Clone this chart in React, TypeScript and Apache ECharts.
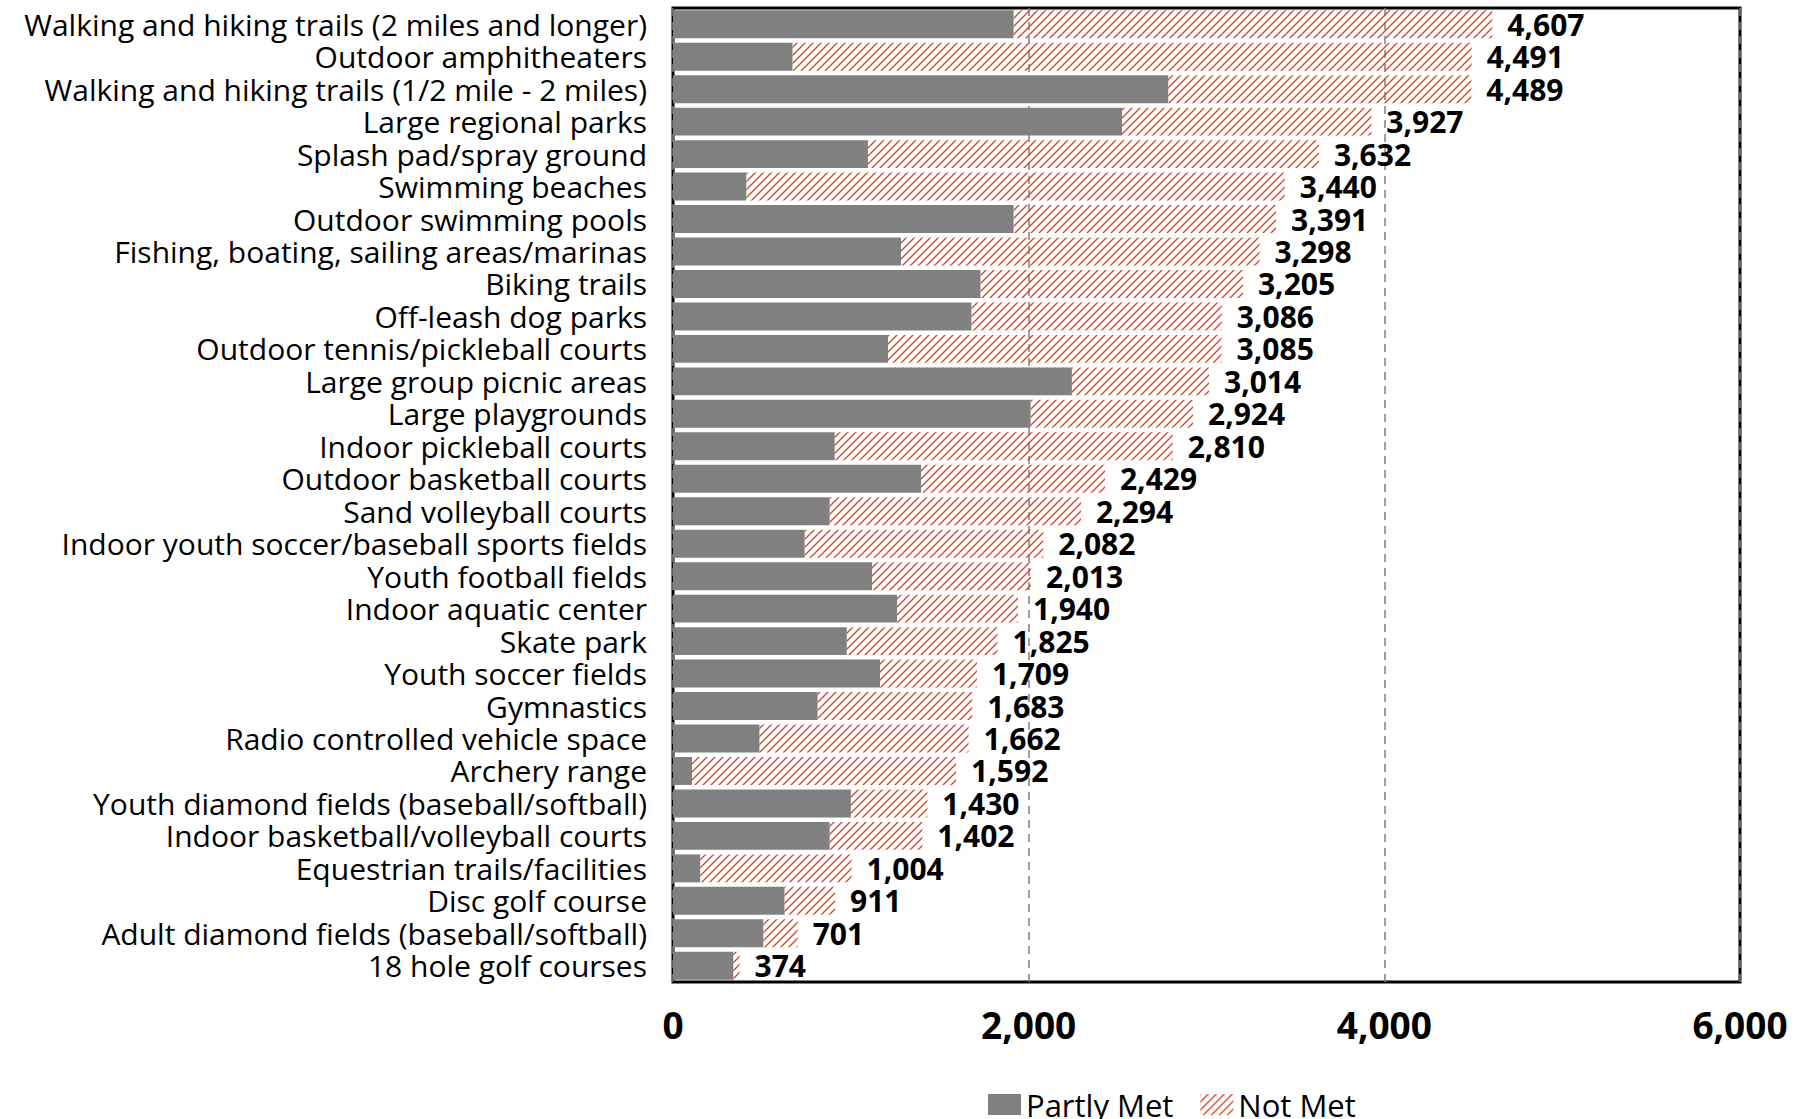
import React, { useEffect, useRef } from "react";
import * as echarts from "echarts";

const categories = [
  "Walking and hiking trails (2 miles and longer)",
  "Outdoor amphitheaters",
  "Walking and hiking trails (1/2 mile - 2 miles)",
  "Large regional parks",
  "Splash pad/spray ground",
  "Swimming beaches",
  "Outdoor swimming pools",
  "Fishing, boating, sailing areas/marinas",
  "Biking trails",
  "Off-leash dog parks",
  "Outdoor tennis/pickleball courts",
  "Large group picnic areas",
  "Large playgrounds",
  "Indoor pickleball courts",
  "Outdoor basketball courts",
  "Sand volleyball courts",
  "Indoor youth soccer/baseball sports fields",
  "Youth football fields",
  "Indoor aquatic center",
  "Skate park",
  "Youth soccer fields",
  "Gymnastics",
  "Radio controlled vehicle space",
  "Archery range",
  "Youth diamond fields (baseball/softball)",
  "Indoor basketball/volleyball courts",
  "Equestrian trails/facilities",
  "Disc golf course",
  "Adult diamond fields (baseball/softball)",
  "18 hole golf courses",
];

const totals = [
  4607, 4491, 4489, 3927, 3632, 3440, 3391, 3298, 3205, 3086, 3085, 3014, 2924,
  2810, 2429, 2294, 2082, 2013, 1940, 1825, 1709, 1683, 1662, 1592, 1430, 1402,
  1004, 911, 701, 374,
];

const partlyMet = [
  1915, 672, 2785, 2525, 1096, 412, 1915, 1282, 1729, 1678, 1209, 2243, 2011,
  909, 1395, 881, 740, 1119, 1260, 977, 1164, 813, 486, 107, 1000, 881, 153,
  627, 508, 339,
];

const notMet = totals.map((t, i) => t - partlyMet[i]);

const xTicks = [0, 2000, 4000, 6000];

const FONT = "'Open Sans', 'Noto Sans', sans-serif";

const hatchSvg =
  "<svg xmlns='http://www.w3.org/2000/svg' width='8' height='8'>" +
  "<path d='M-1,1 L1,-1 M0,8 L8,0 M7,9 L9,7' stroke='#D9472B' stroke-width='1.4' fill='none'/></svg>";
const hatchUrl = "data:image/svg+xml;charset=utf-8," + encodeURIComponent(hatchSvg);

export default function App() {
  const ref = useRef<HTMLDivElement>(null);
  useEffect(() => {
    if (!ref.current) return;
    const chart = echarts.init(ref.current, null, { renderer: "svg" });
    const hatch: any = {
      image: hatchUrl,
      repeat: "repeat",
      imageWidth: 8,
      imageHeight: 8,
    };
    chart.setOption({
      animation: false,
      backgroundColor: "#ffffff",
      textStyle: { fontFamily: FONT },
      grid: {
        left: 673,
        top: 8,
        right: 66,
        bottom: 137,
        show: true,
        borderColor: "#000000",
        borderWidth: 3,
        backgroundColor: "transparent",
      },
      legend: {
        left: 983,
        top: 1084,
        itemWidth: 33,
        itemHeight: 21,
        itemGap: 27,
        icon: "rect",
        textStyle: { fontFamily: FONT, fontSize: 31, color: "#000", lineHeight: 30 },
        data: ["Partly Met", "Not Met"],
      },
      xAxis: {
        type: "value",
        min: xTicks[0],
        max: xTicks[xTicks.length - 1],
        interval: 2000,
        axisLine: { show: false },
        axisTick: { show: false },
        splitLine: {
          show: true,
          lineStyle: { color: "#7f7f7f", type: [8, 6], width: 1.5 },
        },
        axisLabel: {
          margin: 24,
          fontFamily: FONT,
          fontSize: 37,
          fontWeight: "bold",
          color: "#000",
          formatter: (v: number) => v.toLocaleString("en-US"),
        },
      },
      yAxis: {
        type: "category",
        inverse: true,
        data: categories,
        axisLine: { show: false },
        axisTick: { show: false },
        splitLine: { show: false },
        axisLabel: {
          interval: 0,
          margin: 26,
          fontFamily: FONT,
          fontSize: 30,
          lineHeight: 30,
          color: "#000",
        },
      },
      series: [
        {
          name: "Partly Met",
          type: "bar",
          stack: "total",
          barCategoryGap: "14%",
          data: partlyMet,
          itemStyle: { color: "#808080" },
        },
        {
          name: "Not Met",
          type: "bar",
          stack: "total",
          barCategoryGap: "14%",
          data: notMet,
          itemStyle: { color: hatch },
          label: {
            show: true,
            position: "right",
            distance: 15,
            fontFamily: FONT,
            fontSize: 30,
            lineHeight: 30,
            fontWeight: "bold",
            color: "#000",
            formatter: (p: any) => totals[p.dataIndex].toLocaleString("en-US"),
          },
        },
      ],
    });
    return () => chart.dispose();
  }, []);
  return (
    <div
      ref={ref}
      style={{ position: "fixed", left: 0, top: 0, width: 1806, height: 1119 }}
    />
  );
}
